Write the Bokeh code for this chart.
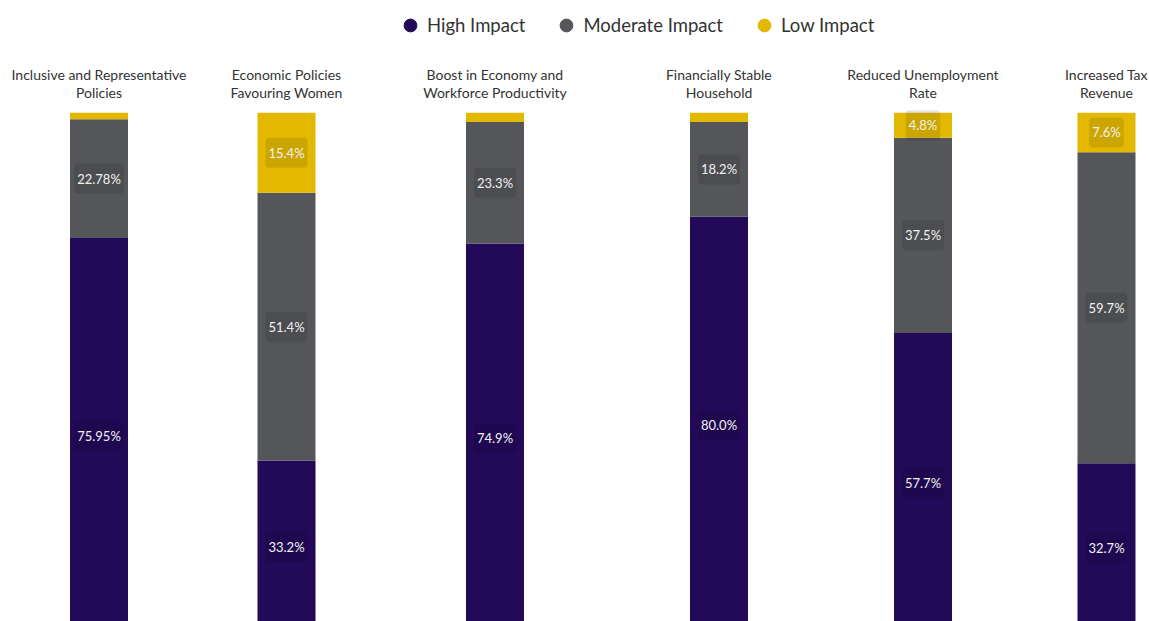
from bokeh.plotting import figure
from bokeh.layouts import row, column
from bokeh.models import ColumnDataSource, FactorRange, Range1d, Legend, LegendItem
from bokeh.core.properties import value
from bokeh.embed import file_html
from bokeh.resources import INLINE

# ---- data ----
categories = [
    "Inclusive and Representative\nPolicies",
    "Economic Policies\nFavouring Women",
    "Boost in Economy and\nWorkforce Productivity",
    "Financially Stable\nHousehold",
    "Reduced Unemployment\nRate",
    "Increased Tax\nRevenue",
]
high = [75.95, 33.2, 74.9, 80.0, 57.7, 32.7]
moderate = [22.78, 51.4, 23.3, 18.2, 37.5, 59.7]
low = [1.27, 15.4, 1.8, 1.8, 4.8, 7.6]
decimals = [2, 1, 1, 1, 1, 1]
series = ["High Impact", "Moderate Impact", "Low Impact"]
colors = ["#230a59", "#55565a", "#e2b900"]

FONT = "Lato"
LABEL_MIN = 3.0

# layout per panel: (outer width, border left, border right)
layout = [
    (192, 5, 0),
    (198, 0, 10),
    (216, 0, 7),
    (214, 11, 0),
    (194, 11, 0),
    (135, 49, 0),
]
BAR_PX = 58
LEG_H = 58
ROW_H = 563
Y_BOTTOM = 2.3
Y_TOP = 110.4   # leaves room above the 100% line for the panel titles

# ---- legend figure ----
leg = figure(width=1149, height=LEG_H, output_backend="svg", toolbar_location=None,
             x_range=Range1d(0, 1), y_range=Range1d(0, 1),
             x_axis_location=None, y_axis_location=None, min_border=0)
leg.outline_line_color = None
leg.grid.visible = False
nan = float("nan")
lsrc0 = ColumnDataSource(dict(x=[nan] * len(series), y=[nan] * len(series), color=colors))
r = leg.scatter("x", "y", marker="circle", color="color", source=lsrc0)
items = [LegendItem(label=name, renderers=[r], index=k) for k, name in enumerate(series)]
legend = Legend(items=items, orientation="horizontal", location=(394, 17),
                glyph_width=32, glyph_height=32, label_standoff=1, spacing=25,
                padding=0, margin=0, border_line_color=None, background_fill_alpha=0,
                label_text_font=FONT, label_text_font_size="18.5px",
                label_text_color="#333333")
leg.add_layout(legend, "center")

# ---- bar panels ----
panels = []
for i, cat in enumerate(categories):
    ow, bl, br = layout[i]
    fw = ow - bl - br
    vals = [high[i], moderate[i], low[i]]
    total = sum(vals)
    src = ColumnDataSource(dict(cat=[cat], high=[high[i]], moderate=[moderate[i]],
                                low=[low[i]], total=[total]))
    p = figure(width=ow, height=ROW_H, output_backend="svg", toolbar_location=None,
               x_range=FactorRange(cat), y_range=Range1d(Y_BOTTOM, Y_TOP),
               x_axis_location=None, y_axis_location=None,
               min_border=0, min_border_left=bl, min_border_right=br)
    p.outline_line_color = None
    p.grid.visible = False
    p.vbar_stack(["high", "moderate", "low"], x="cat", width=BAR_PX / fw,
                 color=colors, line_color=None, source=src)
    # panel title above the bar
    p.text(x="cat", y="total", text="cat", source=src,
           text_align="center", text_baseline="bottom", y_offset=-12,
           text_color="#333333", text_font=value(FONT), text_font_size="14px",
           text_line_height=1.02)
    # value labels
    mids, texts = [], []
    base = 0.0
    for v in vals:
        if v >= LABEL_MIN:
            mids.append(base + v / 2)
            texts.append(f"{v:.{decimals[i]}f}%")
        base += v
    lsrc = ColumnDataSource(dict(cat=[cat] * len(mids), y=mids, t=texts))
    p.text(x="cat", y="y", text="t", source=lsrc,
           text_align="center", text_baseline="middle", text_color="#f2f2f2",
           text_font=value(FONT), text_font_size="13px",
           background_fill_color="black", background_fill_alpha=0.1,
           padding=(3, 7), border_radius=4)
    panels.append(p)

layout_obj = column(leg, row(*panels, spacing=0), spacing=0)
open("out.html", "w").write(file_html(layout_obj, INLINE))
